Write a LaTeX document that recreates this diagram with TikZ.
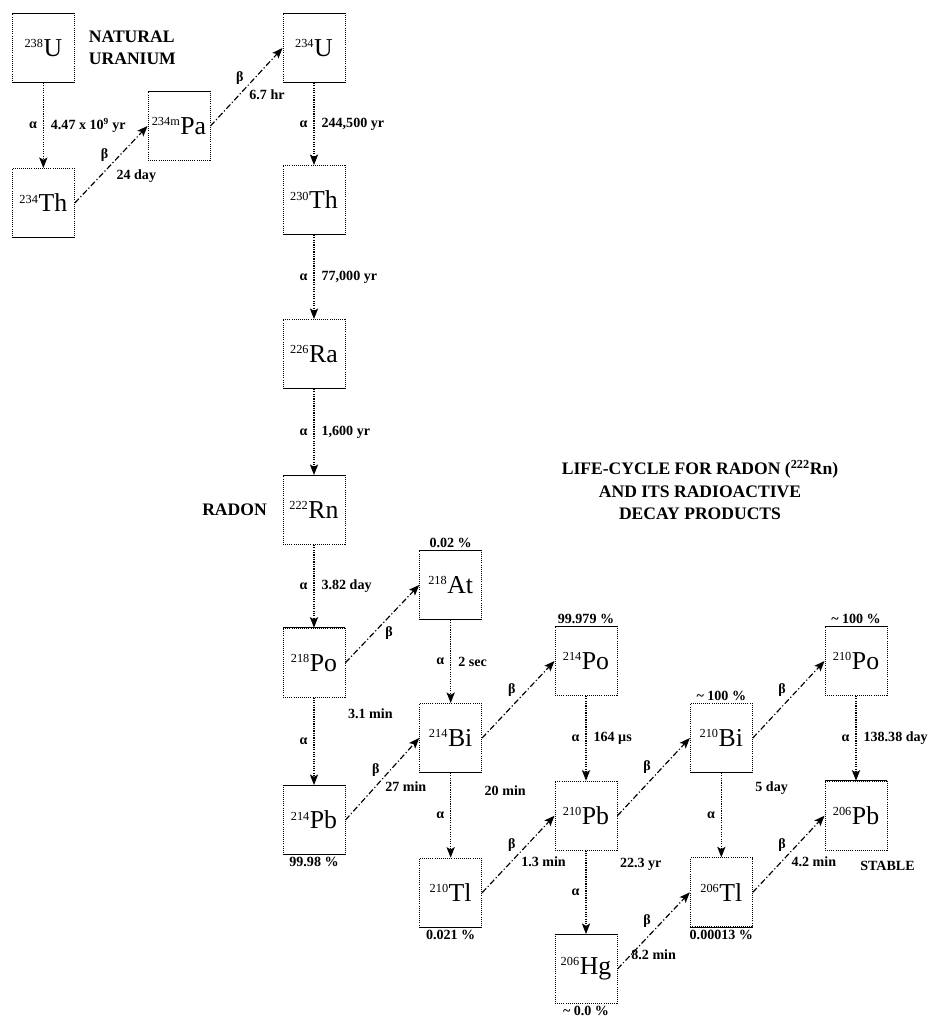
\documentclass[tikz,border=0pt]{standalone}
\usepackage{fontspec}
\setmainfont{Liberation Serif}
\usetikzlibrary{arrows.meta, positioning}

\newcommand{\nuc}[2]{{\fontsize{10.5}{10.5}\selectfont\raisebox{7.5pt}{#1}}\kern0.5pt#2}

\tikzset{
  isobox/.style={
    rectangle, draw, densely dotted, line width=0.8pt,
    minimum width=1.86cm, minimum height=2.07cm, inner sep=0pt,
    font=\fontsize{22}{24}\selectfont
  },
  lbl/.style={font=\fontsize{12}{13}\selectfont\bfseries, inner sep=2pt},
  headline/.style={font=\fontsize{15}{19}\selectfont\bfseries, align=#1},
  alphadecay/.style={-{Stealth[length=9pt, width=7pt, inset=2pt]}, densely dotted, line width=1pt},
  betadecay/.style={-{Stealth[length=9pt, width=7pt, inset=2pt]}, dash pattern=on 5pt off 2pt on 1pt off 2pt, line width=1pt},
}

\begin{document}
\begin{tikzpicture}
\useasboundingbox (0,0) rectangle (27.93,30.6);

% -- Uranium column ------------------------------------------
\node[isobox] (u238)  at (1.30, 29.16) {\nuc{238}{U}};
\node[isobox] (th234) at (1.30, 24.51) {\nuc{234}{Th}};
\node[isobox] (pa234) at (5.37, 26.82) {\nuc{234m}{Pa}};
\node[isobox] (u234)  at (9.42, 29.16) {\nuc{234}{U}};
\node[isobox] (th230) at (9.42, 24.60) {\nuc{230}{Th}};
\node[isobox] (ra226) at (9.42, 19.98) {\nuc{226}{Ra}};
\node[isobox] (rn222) at (9.42, 15.30) {\nuc{222}{Rn}};

% -- Radon daughters -----------------------------------------
\node[isobox] (po218) at (9.42, 10.72)  {\nuc{218}{Po}};
\node[isobox] (pb214) at (9.42, 6.00)   {\nuc{214}{Pb}};
\node[isobox] (at218) at (13.52, 13.05) {\nuc{218}{At}};
\node[isobox] (bi214) at (13.52, 8.46)  {\nuc{214}{Bi}};
\node[isobox] (tl210) at (13.52, 3.82)  {\nuc{210}{Tl}};
\node[isobox] (po214) at (17.58, 10.77) {\nuc{214}{Po}};
\node[isobox] (pb210) at (17.58, 6.13)  {\nuc{210}{Pb}};
\node[isobox] (hg206) at (17.58, 1.53)  {\nuc{206}{Hg}};
\node[isobox] (bi210) at (21.64, 8.46)  {\nuc{210}{Bi}};
\node[isobox] (tl206) at (21.64, 3.83)  {\nuc{206}{Tl}};
\node[isobox] (po210) at (25.68, 10.77) {\nuc{210}{Po}};
\node[isobox] (pb206) at (25.68, 6.13)  {\nuc{206}{Pb}};

% solid box edges
\foreach \n in {u238, pa234, u234, rn222, po218, at218, pb214, po214, po210, pb206, hg206}
  \draw[line width=0.8pt] (\n.north west) -- (\n.north east);
\foreach \n in {u238, th234, u234, th230, ra226, at218, bi214, pb214, bi210, tl210, tl206}
  \draw[line width=0.8pt] (\n.south west) -- (\n.south east);

% -- Texts -----------------------------------------------------
\node[headline={left}, right=0.3cm of u238] (natural) {NATURAL\\URANIUM};
\node[headline={left}, left=0.35cm of rn222] (radon) {RADON};
\node[headline={center}] (title) at (21.0, 15.9)
  {LIFE-CYCLE FOR RADON (\textsuperscript{222}Rn)\\AND ITS RADIOACTIVE\\DECAY PRODUCTS};
\node[lbl, below=0.25cm of pb206.south east] (stable) {STABLE};

% branching fractions
\node[lbl, above=0pt of at218] (pc_at218) {0.02 \%};
\node[lbl, above=0pt of po214] (pc_po214) {99.979 \%};
\node[lbl, above=0pt of bi210] (pc_bi210) {\textasciitilde{} 100 \%};
\node[lbl, above=0pt of po210] (pc_po210) {\textasciitilde{} 100 \%};
\node[lbl, below=0pt of pb214] (pc_pb214) {99.98 \%};
\node[lbl, below=0pt of tl210] (pc_tl210) {0.021 \%};
\node[lbl, below=0pt of tl206] (pc_tl206) {0.00013 \%};
\node[lbl, below=0pt of hg206] (pc_hg206) {\textasciitilde{} 0.0 \%};

% half-lives of branching nuclides
\node[lbl, below right=0.25cm and 0cm of po218.south east] (hl_po218) {3.1 min};
\node[lbl, below right=0.3cm and 0cm of bi214.south east]  (hl_bi214) {20 min};
\node[lbl, below right=0.15cm and 0cm of pb210.south east] (hl_pb210) {22.3 yr};
\node[lbl, below right=0.2cm and 0cm of bi210.south east]  (hl_bi210) {5 day};

% -- Alpha decays ----------------------------------------------
\draw[alphadecay] (u238) -- (th234)
  node[lbl, midway, left=3pt] {α} node[lbl, midway, right=4pt] {4.47 x 10\textsuperscript{9} yr};
\draw[alphadecay] (u234) -- (th230)
  node[lbl, midway, left=3pt] {α} node[lbl, midway, right=4pt] {244,500 yr};
\draw[alphadecay] (th230) -- (ra226)
  node[lbl, midway, left=3pt] {α} node[lbl, midway, right=4pt] {77,000 yr};
\draw[alphadecay] (ra226) -- (rn222)
  node[lbl, midway, left=3pt] {α} node[lbl, midway, right=4pt] {1,600 yr};
\draw[alphadecay] (rn222) -- (po218)
  node[lbl, midway, left=3pt] {α} node[lbl, midway, right=4pt] {3.82 day};
\draw[alphadecay] (po218) -- (pb214) node[lbl, midway, left=3pt] {α};
\draw[alphadecay] (at218) -- (bi214)
  node[lbl, midway, left=3pt] {α} node[lbl, midway, right=4pt] {2 sec};
\draw[alphadecay] (bi214) -- (tl210) node[lbl, midway, left=3pt] {α};
\draw[alphadecay] (po214) -- (pb210)
  node[lbl, midway, left=3pt] {α} node[lbl, midway, right=4pt] {164 µs};
\draw[alphadecay] (pb210) -- (hg206) node[lbl, midway, left=3pt] {α};
\draw[alphadecay] (bi210) -- (tl206) node[lbl, midway, left=3pt] {α};
\draw[alphadecay] (po210) -- (pb206)
  node[lbl, midway, left=3pt] {α} node[lbl, midway, right=4pt] {138.38 day};

% -- Beta decays -----------------------------------------------
\draw[betadecay] (th234.east) -- (pa234.west)
  node[lbl, midway, above left] {β} node[lbl, midway, below right=3pt] {24 day};
\draw[betadecay] (pa234.east) -- (u234.west)
  node[lbl, midway, above left] {β} node[lbl, midway, below right] {6.7 hr};
\draw[betadecay] (po218.east) -- (at218.west) node[lbl, midway, below right] {β};
\draw[betadecay] (pb214.east) -- (bi214.west)
  node[lbl, midway, above left] {β} node[lbl, midway, below right] {27 min};
\draw[betadecay] (bi214.east) -- (po214.west) node[lbl, midway, above left] {β};
\draw[betadecay] (tl210.east) -- (pb210.west)
  node[lbl, midway, above left] {β} node[lbl, midway, below right] {1.3 min};
\draw[betadecay] (pb210.east) -- (bi210.west) node[lbl, midway, above left] {β};
\draw[betadecay] (hg206.east) -- (tl206.west)
  node[lbl, midway, above left] {β} node[lbl, midway, below=14pt] {8.2 min};
\draw[betadecay] (bi210.east) -- (po210.west) node[lbl, midway, above left] {β};
\draw[betadecay] (tl206.east) -- (pb206.west)
  node[lbl, midway, above left] {β} node[lbl, midway, below right] {4.2 min};

\end{tikzpicture}
\end{document}
